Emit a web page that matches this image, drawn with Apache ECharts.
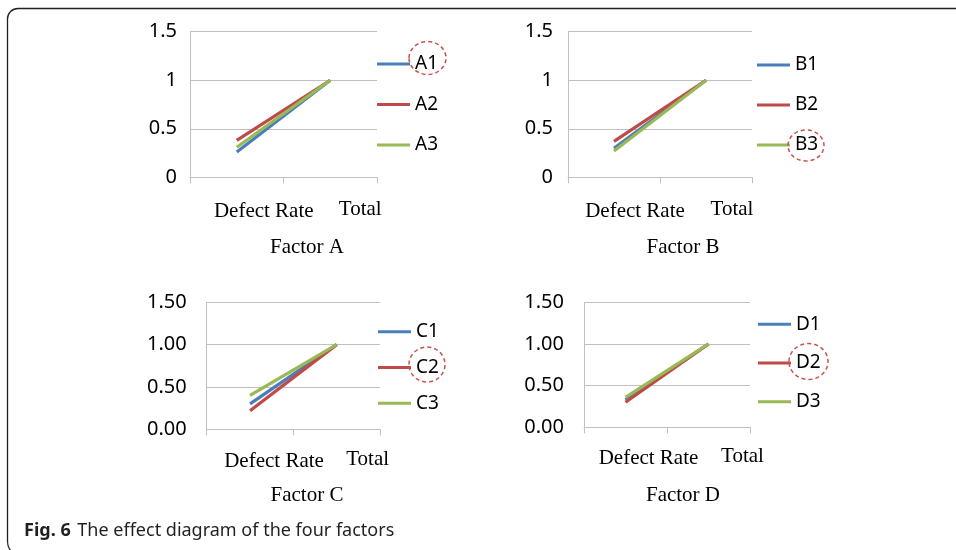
<!DOCTYPE html>
<html>
<head>
<meta charset="utf-8">
<script src="https://cdn.jsdelivr.net/npm/echarts@6/dist/echarts.min.js"></script>
<style>html,body{margin:0;padding:0;background:#fff;}#c{width:956px;height:550px;}</style>
</head>
<body>
<div id="c"></div>
<script>
// ---- data ----
const categories = ['Defect Rate', 'Total'];
const a1 = [0.26, 1], a2 = [0.38, 1], a3 = [0.31, 1];
const b1 = [0.30, 1], b2 = [0.37, 1], b3 = [0.27, 1];
const c1 = [0.30, 1], c2 = [0.22, 1], c3 = [0.40, 1];
const d1 = [0.33, 1], d2 = [0.30, 1], d3 = [0.36, 1];
const namesA = ['A1', 'A2', 'A3'];
const namesB = ['B1', 'B2', 'B3'];
const namesC = ['C1', 'C2', 'C3'];
const namesD = ['D1', 'D2', 'D3'];
const panelTitles = ['Factor A', 'Factor B', 'Factor C', 'Factor D'];
const captionBold = 'Fig. 6';
const captionText = 'The effect diagram of the four factors';

const colors = ['#4a7ebb', '#be4b48', '#98b954'];
const SANS = 'Noto Sans';
const SERIF = 'Liberation Serif';
const GRID = '#c0c0c0';
const FRAME = '#231f20';

const panels = [
  {names: namesA, vals: [a1, a2, a3], grid: {left: 190, top: 31.7, width: 187, height: 145.6},
   yFmt: v => String(v), yMargin: 13, lab: {m: 20, dr: [4, 54], tt: [1, 60]},
   legend: {left: 377, top: 54, gap: 20.5}, title: [307, 247]},
  {names: namesB, vals: [b1, b2, b3], grid: {left: 568, top: 31.7, width: 184, height: 145.6},
   yFmt: v => String(v), yMargin: 15, lab: {m: 20, dr: [4, 42], tt: [1, 52]},
   legend: {left: 757, top: 55, gap: 20}, title: [683, 247]},
  {names: namesC, vals: [c1, c2, c3], grid: {left: 206.7, top: 302.3, width: 173.3, height: 127},
   yFmt: v => v.toFixed(2), yMargin: 20, lab: {m: 18, dr: [4, 48], tt: [1, 62]},
   legend: {left: 378, top: 321.7, gap: 15.8}, title: [307, 495]},
  {names: namesD, vals: [d1, d2, d3], grid: {left: 584, top: 302.3, width: 166, height: 125},
   yFmt: v => v.toFixed(2), yMargin: 20, lab: {m: 17, dr: [4, 46], tt: [1, 68]},
   legend: {left: 758, top: 314.3, gap: 18.7}, title: [683, 495]}
];

const grids = [], xAxes = [], yAxes = [], series = [], legends = [], graphics = [];

panels.forEach((p, i) => {
  grids.push(Object.assign({containLabel: false}, p.grid));
  xAxes.push({
    type: 'category', gridIndex: i, data: categories, boundaryGap: true,
    axisLine: {show: true, lineStyle: {color: GRID, width: 1}},
    axisTick: {show: true, length: 6, lineStyle: {color: GRID}},
    axisLabel: {
      interval: 0, hideOverlap: false, margin: p.lab.m, color: '#000',
      fontFamily: SERIF, fontSize: 21, lineHeight: 24,
      formatter: v => v === 'Total' ? '{tt|' + v + '}' : '{dr|' + v + '}',
      rich: {
        dr: {fontFamily: SERIF, fontSize: 21, lineHeight: 24, color: '#000', padding: [p.lab.dr[0], 0, 0, p.lab.dr[1]]},
        tt: {fontFamily: SERIF, fontSize: 21, lineHeight: 24, color: '#000', padding: [p.lab.tt[0], 0, 0, p.lab.tt[1]]}
      }
    },
    splitLine: {show: false}
  });
  yAxes.push({
    type: 'value', gridIndex: i, min: 0, max: 1.5, interval: 0.5,
    axisLine: {show: true, lineStyle: {color: GRID, width: 1}},
    axisTick: {show: false},
    axisLabel: {margin: p.yMargin, color: '#000', fontFamily: SANS, fontSize: 20, formatter: p.yFmt},
    splitLine: {show: true, lineStyle: {color: GRID, width: 1}}
  });
  p.names.forEach((n, k) => {
    series.push({
      name: n, type: 'line', xAxisIndex: i, yAxisIndex: i, data: p.vals[k],
      symbol: 'none', showSymbol: false, color: colors[k],
      lineStyle: {color: colors[k], width: 3.2},
      emphasis: {disabled: true}, z: 2 + k
    });
  });
  legends.push({
    data: p.names, orient: 'vertical', left: p.legend.left, top: p.legend.top,
    itemGap: p.legend.gap, itemWidth: 33, itemHeight: 3, icon: 'rect', padding: 0,
    selectedMode: false,
    textStyle: {fontFamily: SANS, fontSize: 19, lineHeight: 20, color: '#000'}
  });
  graphics.push({
    type: 'text', x: p.title[0], y: p.title[1], silent: true,
    style: {text: panelTitles[i], fontFamily: SERIF, fontSize: 21, fill: '#000', align: 'center', verticalAlign: 'middle'}
  });
});

// dashed highlight ellipses
const rings = [[427.5, 58, 18.5, 16.5], [806, 145.5, 18, 15.5], [427, 364.5, 18, 17.5], [808.5, 361.5, 19.5, 18]];
rings.forEach(r => graphics.push({
  type: 'ellipse', silent: true, shape: {cx: r[0], cy: r[1], rx: r[2], ry: r[3]},
  style: {fill: 'none', stroke: '#c9504d', lineWidth: 1.5, lineDash: [4, 3]}, z: 10
}));

// frame
graphics.push({
  type: 'line', silent: true, shape: {x1: 18, y1: 8.5, x2: 956, y2: 8.5},
  style: {stroke: FRAME, lineWidth: 1.3}
});
graphics.push({
  type: 'line', silent: true, shape: {x1: 7.5, y1: 19, x2: 7.5, y2: 541},
  style: {stroke: FRAME, lineWidth: 1.3}
});
graphics.push({
  type: 'arc', silent: true, shape: {cx: 18, cy: 19, r: 10.5, startAngle: Math.PI, endAngle: Math.PI * 1.5},
  style: {fill: 'none', stroke: FRAME, lineWidth: 1.3}
});
graphics.push({
  type: 'bezierCurve', silent: true, shape: {x1: 7.5, y1: 541, cpx1: 7.5, cpy1: 548, x2: 12, y2: 552},
  style: {fill: 'none', stroke: FRAME, lineWidth: 1.3}
});
// caption
graphics.push({
  type: 'text', x: 24, y: 531, silent: true,
  style: {
    text: '{b|' + captionBold + '}  {r|' + captionText + '}',
    verticalAlign: 'middle',
    rich: {
      b: {fontFamily: SANS, fontSize: 18, fontWeight: 'bold', fill: FRAME},
      r: {fontFamily: SANS, fontSize: 18, fill: FRAME}
    }
  }
});

const chart = echarts.init(document.getElementById('c'), null, {renderer: 'canvas'});
chart.setOption({
  animation: false,
  backgroundColor: '#fff',
  grid: grids, xAxis: xAxes, yAxis: yAxes, series: series, legend: legends,
  graphic: graphics
});
</script>
</body>
</html>
